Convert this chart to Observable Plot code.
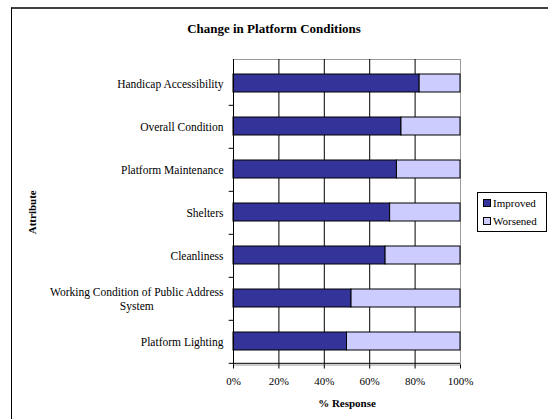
<!DOCTYPE html>
<html>
<head>
<meta charset="utf-8">
<script src="https://cdn.jsdelivr.net/npm/d3@7"></script>
<script src="https://cdn.jsdelivr.net/npm/@observablehq/plot@0.6"></script>
<style>
  body { margin: 0; overflow: hidden; background: #fff; }
  #wrap { position: relative; width: 548px; height: 419px; overflow: hidden; font-family: "Liberation Serif", "Times New Roman", serif; color: #000; }
  #frame { position: absolute; left: 11px; top: 7px; width: 700px; height: 600px; border-top: 2px solid #404040; border-left: 1px solid #000; box-sizing: border-box; }
  #chart { position: absolute; left: 0; top: 0; }
  #title { position: absolute; left: 0; top: 21px; width: 548px; text-align: center; font-weight: bold; font-size: 13px; line-height: 16px; }
  #legend { position: absolute; left: 477px; top: 192px; width: 70px; height: 40px; border: 1px solid #000; box-sizing: border-box; background: #fff; font-size: 11px; }
  .item { position: absolute; left: 5px; height: 14px; line-height: 14px; white-space: nowrap; }
  .sw { display: inline-block; width: 6px; height: 6px; border: 1px solid #000; margin-right: 2px; vertical-align: 0px; }
</style>
</head>
<body>
<div id="wrap">
  <div id="frame"></div>
  <div id="chart"></div>
  <div id="title"></div>
  <div id="legend"></div>
</div>
<script>
const titleText = "Change in Platform Conditions";
const categories = [
  "Handicap Accessibility",
  "Overall Condition",
  "Platform Maintenance",
  "Shelters",
  "Cleanliness",
  "Working Condition of Public Address System",
  "Platform Lighting"
];
const categoryLabels = [
  "Handicap Accessibility",
  "Overall Condition",
  "Platform Maintenance",
  "Shelters",
  "Cleanliness",
  "Working Condition of Public Address\nSystem",
  "Platform Lighting"
];
const improved = [82, 74, 72, 69, 67, 52, 50];
const worsened = [18, 26, 28, 31, 33, 48, 50];
const series = ["Improved", "Worsened"];
const colors = ["#333399", "#ccccff"];
const xTicks = [0, 20, 40, 60, 80, 100];
const xLabel = "% Response";
const yLabel = "Attribute";

const W = 548, H = 419, mL = 233, mR = 88, mT = 59, mB = 54.5;
const step = (H - mT - mB) / categories.length;
const padIn = 0.585;

const rows = categories.flatMap((c, i) => [
  {attr: c, series: series[0], value: improved[i]},
  {attr: c, series: series[1], value: worsened[i]}
]);
const labelOf = new Map(categories.map((c, i) => [c, categoryLabels[i]]));

const chart = Plot.plot({
  width: W, height: H,
  marginLeft: mL, marginRight: mR, marginTop: mT, marginBottom: mB,
  style: {fontFamily: "Liberation Serif, Times New Roman, serif", fontSize: "11px", color: "#000", background: "transparent", overflow: "visible"},
  x: {domain: [0, 100], ticks: xTicks, tickFormat: d => d + "%"},
  y: {domain: categories, paddingInner: padIn, paddingOuter: padIn / 2},
  color: {domain: series, range: colors},
  marks: [
    Plot.frame({stroke: "#9a9a9a"}),
    Plot.ruleX(xTicks.slice(1, -1), {stroke: "#000"}),
    Plot.barX(rows, {y: "attr", x: "value", fill: "series", stroke: "#000", strokeWidth: 1}),
    Plot.ruleX([0], {stroke: "#000"}),
    Plot.ruleY(categories, {y: d => d, x1: -1.9, x2: 0, dy: step / 2, stroke: "#000"}),
    Plot.ruleY(categories.slice(-1), {y: d => d, x1: 0, x2: 100, dy: step / 2, stroke: "#000"}),
    Plot.axisX({ticks: xTicks, tickFormat: d => d + "%", tickSize: 4, tickPadding: 8, label: null, fontSize: 11}),
    Plot.axisY({tickSize: 0, tickPadding: 10, label: null, fontSize: 11.5, lineHeight: 1.2, tickFormat: d => labelOf.get(d)}),
    Plot.text([xLabel], {text: d => d, frameAnchor: "bottom", lineAnchor: "middle", textAnchor: "middle", dy: 38.5, fontWeight: "bold", fontSize: 11}),
    Plot.text([yLabel], {text: d => d, frameAnchor: "left", textAnchor: "middle", lineAnchor: "middle", dx: -201, rotate: -90, fontWeight: "bold", fontSize: 11})
  ]
});
document.getElementById("chart").appendChild(chart);

// center the lines of the wrapped tick label as one right-aligned block
chart.querySelectorAll("text").forEach(t => {
  const spans = t.querySelectorAll("tspan");
  if (spans.length > 1) {
    let w = 0;
    spans.forEach(s => { w = Math.max(w, s.getComputedTextLength()); });
    t.setAttribute("text-anchor", "middle");
    spans.forEach(s => s.setAttribute("x", -w / 2));
  }
});

document.getElementById("title").textContent = titleText;
const legend = document.getElementById("legend");
series.forEach((s, i) => {
  const item = document.createElement("div");
  item.className = "item";
  item.style.top = (3 + i * 18) + "px";
  const sw = document.createElement("span");
  sw.className = "sw";
  sw.style.background = colors[i];
  item.appendChild(sw);
  item.appendChild(document.createTextNode(s));
  legend.appendChild(item);
});
</script>
</body>
</html>
